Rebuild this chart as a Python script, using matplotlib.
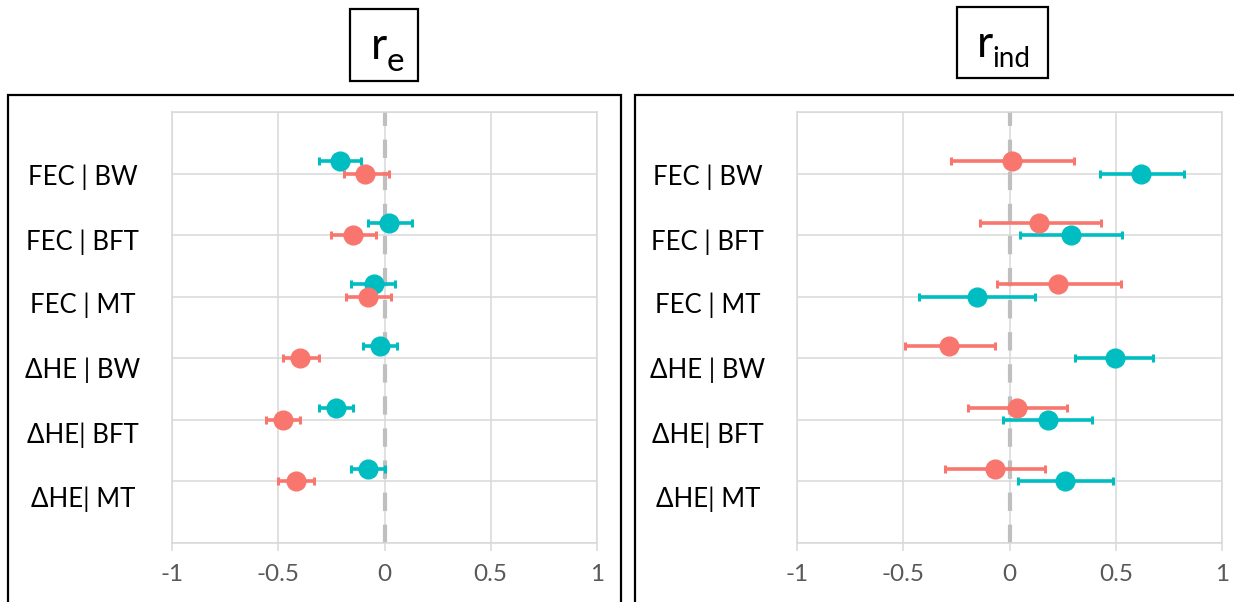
import matplotlib.pyplot as plt
from matplotlib.patches import Rectangle
from matplotlib.transforms import blended_transform_factory

plt.rcParams["font.family"] = ["Lato", "DejaVu Sans"]

# categories, top to bottom
categories = ["FEC | BW", "FEC | BFT", "FEC | MT", "ΔHE | BW", "ΔHE| BFT", "ΔHE| MT"]
cat_y = [6, 5, 4, 3, 2, 1]

xtick_vals = [-1, -0.5, 0, 0.5, 1]
xtick_labels = ["-1", "-0.5", "0", "0.5", "1"]

# r_e panel
re_teal = [-0.21, 0.02, -0.05, -0.02, -0.23, -0.08]
re_teal_lo = [-0.31, -0.08, -0.16, -0.10, -0.31, -0.16]
re_teal_hi = [-0.11, 0.13, 0.05, 0.06, -0.15, 0.00]
re_red = [-0.09, -0.15, -0.08, -0.40, -0.48, -0.415]
re_red_lo = [-0.19, -0.25, -0.18, -0.48, -0.56, -0.50]
re_red_hi = [0.02, -0.04, 0.03, -0.31, -0.40, -0.33]

# r_ind panel
rind_red = [0.01, 0.14, 0.23, -0.285, 0.035, -0.07]
rind_red_lo = [-0.275, -0.14, -0.06, -0.49, -0.195, -0.305]
rind_red_hi = [0.305, 0.43, 0.525, -0.07, 0.27, 0.165]
rind_teal = [0.62, 0.29, -0.155, 0.495, 0.18, 0.26]
rind_teal_lo = [0.425, 0.05, -0.425, 0.31, -0.03, 0.04]
rind_teal_hi = [0.82, 0.53, 0.12, 0.675, 0.39, 0.485]

# label text boxes are not quite on the grid lines (baseline, in y-axis units)
label_base = [5.815, 4.76, 3.735, 2.68, 1.625, 0.585]

TEAL = "#00BDC2"
RED = "#F8766D"
GRID = "#D9D9D9"

W, H = 1234, 602
fig = plt.figure(figsize=(W / 100, H / 100), dpi=100)


def px_rect(x0, y0, x1, y1, **kw):
    """Rectangle given in pixel coords (y from top)."""
    fig.patches.append(Rectangle((x0 / W, 1 - y1 / H), (x1 - x0) / W, (y1 - y0) / H,
                                 transform=fig.transFigure, fill=False, **kw))


def series(ax, vals, lo, hi, ys, color):
    err = [[v - l for v, l in zip(vals, lo)], [h - v for v, h in zip(vals, hi)]]
    ax.errorbar(vals, ys, xerr=err, fmt="o", color=color, ms=13.5, elinewidth=2.6,
                capsize=3, capthick=2.2, zorder=4)


def panel(ax, upper, lower):
    ax.set_xlim(-1, 1)
    ax.set_ylim(0, 7)
    ax.set_yticks(range(8))
    ax.set_yticklabels([])
    ax.tick_params(axis="y", length=0)
    ax.set_xticks(xtick_vals)
    ax.set_xticklabels(xtick_labels)
    ax.tick_params(axis="x", length=6, width=1.1, color=GRID, labelcolor="#595959",
                   labelsize=17.5, pad=9)
    ax.grid(True, color=GRID, lw=1.1, zorder=0)
    ax.set_axisbelow(True)
    for s in ax.spines.values():
        s.set_color(GRID)
        s.set_linewidth(1.1)
    ax.axvline(0, color="#BFBFBF", lw=3, dashes=(4.4, 3.3), zorder=2)
    # upper series sits 0.2 above the category line
    series(ax, upper[0], upper[1], upper[2], [y + 0.2 for y in cat_y], upper[3])
    series(ax, lower[0], lower[1], lower[2], cat_y, lower[3])
    tr = blended_transform_factory(ax.transAxes, ax.transData)
    for name, y in zip(categories, label_base):
        ax.text(-0.21, y, name, transform=tr, ha="center", va="baseline",
                fontsize=18.5, color="black")


ax1 = fig.add_axes([172 / W, 1 - 543 / H, 425 / W, 431 / H])
ax2 = fig.add_axes([797 / W, 1 - 543 / H, 425 / W, 431 / H])

panel(ax1, (re_teal, re_teal_lo, re_teal_hi, TEAL), (re_red, re_red_lo, re_red_hi, RED))
panel(ax2, (rind_red, rind_red_lo, rind_red_hi, RED), (rind_teal, rind_teal_lo, rind_teal_hi, TEAL))

# panel frames
px_rect(8, 95, 621, 620, edgecolor="black", lw=1.6)
px_rect(635, 95, 1250, 620, edgecolor="black", lw=1.6)

# title boxes: big "r" plus subscript placed right after it
px_rect(350, 9, 418, 81, edgecolor="black", lw=1.6)
px_rect(957, 7, 1048, 78, edgecolor="black", lw=1.6)
renderer = fig.canvas.get_renderer()
for x_left, base, sub, sub_base, sub_size in [(371, 59, "e", 71, 24), (977, 57, "ind", 67, 20)]:
    t = fig.text(x_left / W, 1 - base / H, "r", ha="left", va="baseline", fontsize=32)
    bb = t.get_window_extent(renderer)
    fig.text((bb.x1 - 1) / W, 1 - sub_base / H, sub, ha="left", va="baseline",
             fontsize=sub_size)

fig.savefig("out.png", dpi=100)
